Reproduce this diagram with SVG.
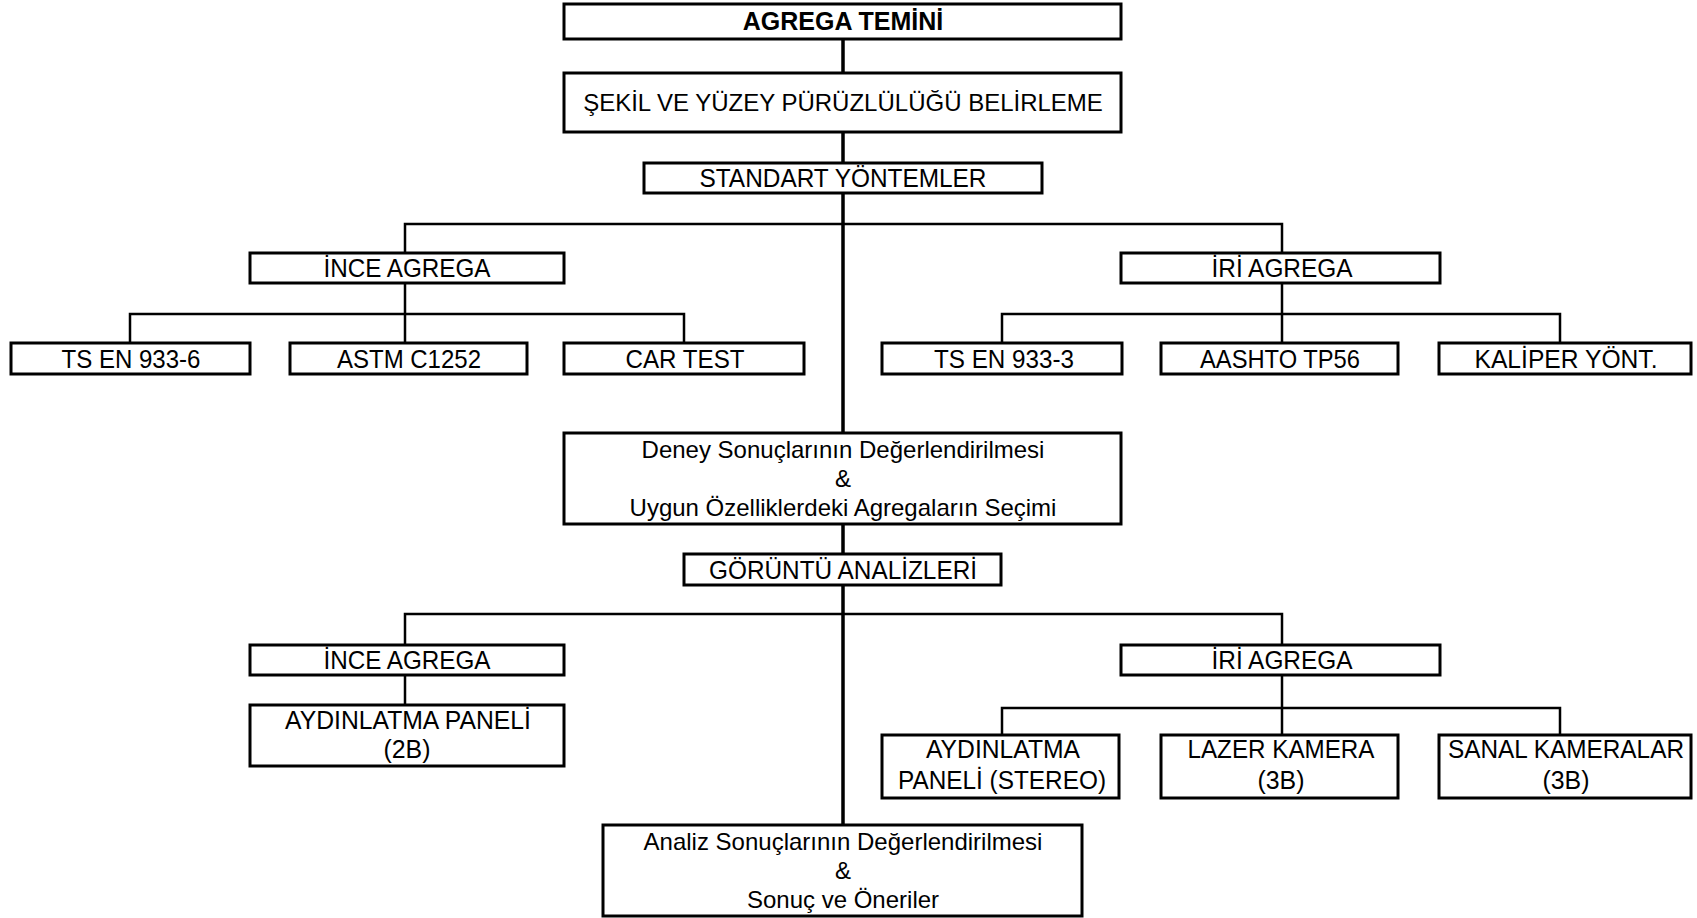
<svg xmlns="http://www.w3.org/2000/svg" width="1697" height="918" viewBox="0 0 1697 918">
  <style>
    .box { fill: #fff; stroke: #000; stroke-width: 3; }
    .lbl { font-family: "Liberation Sans", Arial, sans-serif; font-size: 24px; fill: #000; text-anchor: middle; }
    .nar { font-size: 26px; }
    .bold { font-weight: bold; font-size: 25px; }
    .trunk { fill: none; stroke: #000; stroke-width: 3.5; }
    .branch { fill: none; stroke: #000; stroke-width: 2.5; }
  </style>
  <rect width="1697" height="918" fill="#fff"/>

  <!-- connectors -->
  <g id="connectors">
    <path class="trunk" d="M843 39V73M843 132V163M843 193V433M843 524V554M843 585V825"/>
    <path class="branch" d="M405 253V224H1282V253"/>
    <path class="branch" d="M405 283V343M130 343V314H684V343M1282 283V343M1002 343V314H1560V343"/>
    <path class="branch" d="M405 645V614H1282V645"/>
    <path class="branch" d="M405 675V705M1282 675V735M1002 735V708H1560V735"/>
  </g>

  <g id="n-agrega-temini">
    <rect class="box" x="564" y="4" width="557" height="35"/>
    <text class="lbl bold" x="843" y="30">AGREGA TEMİNİ</text>
  </g>
  <g id="n-sekil">
    <rect class="box" x="564" y="73" width="557" height="59"/>
    <text class="lbl" x="843" y="111">ŞEKİL VE YÜZEY PÜRÜZLÜLÜĞÜ BELİRLEME</text>
  </g>
  <g id="n-standart">
    <rect class="box" x="644" y="163" width="398" height="30"/>
    <text class="lbl nar" x="843" y="187" textLength="287" lengthAdjust="spacingAndGlyphs">STANDART YÖNTEMLER</text>
  </g>
  <g id="n-ince-1">
    <rect class="box" x="250" y="253" width="314" height="30"/>
    <text class="lbl nar" x="407" y="277" textLength="167" lengthAdjust="spacingAndGlyphs">İNCE AGREGA</text>
  </g>
  <g id="n-iri-1">
    <rect class="box" x="1121" y="253" width="319" height="30"/>
    <text class="lbl nar" x="1282" y="277" textLength="141" lengthAdjust="spacingAndGlyphs">İRİ AGREGA</text>
  </g>
  <g id="n-ts-en-933-6">
    <rect class="box" x="11" y="343" width="239" height="31"/>
    <text class="lbl nar" x="131" y="368" textLength="139" lengthAdjust="spacingAndGlyphs">TS EN 933-6</text>
  </g>
  <g id="n-astm">
    <rect class="box" x="290" y="343" width="237" height="31"/>
    <text class="lbl nar" x="409" y="368" textLength="144" lengthAdjust="spacingAndGlyphs">ASTM C1252</text>
  </g>
  <g id="n-car-test">
    <rect class="box" x="564" y="343" width="240" height="31"/>
    <text class="lbl nar" x="685" y="368" textLength="119" lengthAdjust="spacingAndGlyphs">CAR TEST</text>
  </g>
  <g id="n-ts-en-933-3">
    <rect class="box" x="882" y="343" width="240" height="31"/>
    <text class="lbl nar" x="1004" y="368" textLength="140" lengthAdjust="spacingAndGlyphs">TS EN 933-3</text>
  </g>
  <g id="n-aashto">
    <rect class="box" x="1161" y="343" width="237" height="31"/>
    <text class="lbl nar" x="1280" y="368" textLength="160" lengthAdjust="spacingAndGlyphs">AASHTO TP56</text>
  </g>
  <g id="n-kaliper">
    <rect class="box" x="1439" y="343" width="252" height="31"/>
    <text class="lbl nar" x="1566" y="368" textLength="183" lengthAdjust="spacingAndGlyphs">KALİPER YÖNT.</text>
  </g>
  <g id="n-deney">
    <rect class="box" x="564" y="433" width="557" height="91"/>
    <text class="lbl" x="843" y="458">Deney Sonuçlarının Değerlendirilmesi</text>
    <text class="lbl" x="843" y="487">&amp;</text>
    <text class="lbl" x="843" y="516">Uygun Özelliklerdeki Agregaların Seçimi</text>
  </g>
  <g id="n-goruntu">
    <rect class="box" x="684" y="554" width="317" height="31"/>
    <text class="lbl nar" x="843" y="579" textLength="268" lengthAdjust="spacingAndGlyphs">GÖRÜNTÜ ANALİZLERİ</text>
  </g>
  <g id="n-ince-2">
    <rect class="box" x="250" y="645" width="314" height="30"/>
    <text class="lbl nar" x="407" y="669" textLength="167" lengthAdjust="spacingAndGlyphs">İNCE AGREGA</text>
  </g>
  <g id="n-iri-2">
    <rect class="box" x="1121" y="645" width="319" height="30"/>
    <text class="lbl nar" x="1282" y="669" textLength="141" lengthAdjust="spacingAndGlyphs">İRİ AGREGA</text>
  </g>
  <g id="n-aydinlatma-2b">
    <rect class="box" x="250" y="705" width="314" height="61"/>
    <text class="lbl nar" x="408" y="729" textLength="246" lengthAdjust="spacingAndGlyphs">AYDINLATMA PANELİ</text>
    <text class="lbl nar" x="407" y="758" textLength="47" lengthAdjust="spacingAndGlyphs">(2B)</text>
  </g>
  <g id="n-aydinlatma-stereo">
    <rect class="box" x="882" y="735" width="237" height="63"/>
    <text class="lbl nar" x="1003" y="758" textLength="154" lengthAdjust="spacingAndGlyphs">AYDINLATMA</text>
    <text class="lbl nar" x="1002" y="789" textLength="208" lengthAdjust="spacingAndGlyphs">PANELİ (STEREO)</text>
  </g>
  <g id="n-lazer">
    <rect class="box" x="1161" y="735" width="237" height="63"/>
    <text class="lbl nar" x="1281" y="758" textLength="187" lengthAdjust="spacingAndGlyphs">LAZER KAMERA</text>
    <text class="lbl nar" x="1281" y="789" textLength="47" lengthAdjust="spacingAndGlyphs">(3B)</text>
  </g>
  <g id="n-sanal">
    <rect class="box" x="1439" y="735" width="252" height="63"/>
    <text class="lbl nar" x="1566" y="758" textLength="236" lengthAdjust="spacingAndGlyphs">SANAL KAMERALAR</text>
    <text class="lbl nar" x="1566" y="789" textLength="47" lengthAdjust="spacingAndGlyphs">(3B)</text>
  </g>
  <g id="n-analiz">
    <rect class="box" x="603" y="825" width="479" height="91"/>
    <text class="lbl" x="843" y="850">Analiz Sonuçlarının Değerlendirilmesi</text>
    <text class="lbl" x="843" y="879">&amp;</text>
    <text class="lbl" x="843" y="908">Sonuç ve Öneriler</text>
  </g>
</svg>
